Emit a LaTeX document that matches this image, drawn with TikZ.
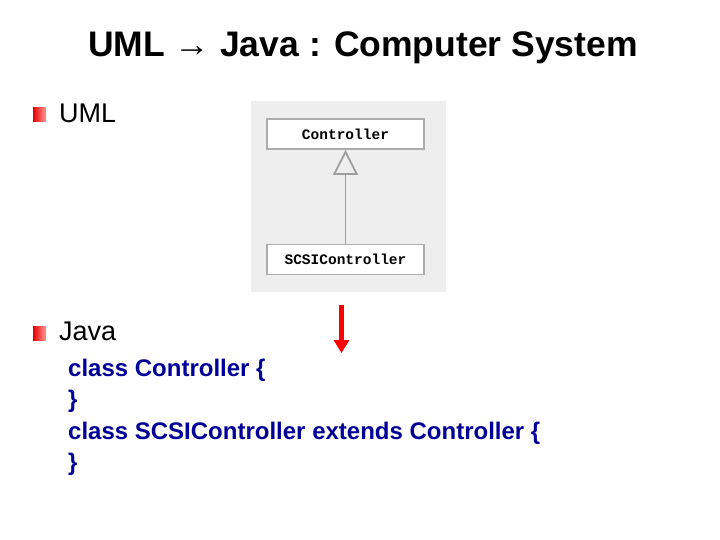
\documentclass[tikz,border=0pt]{standalone}
\usepackage{fontspec}
\setmainfont{Liberation Sans}
\newfontfamily\umlfont{Liberation Mono}
\usetikzlibrary{arrows.meta}
\begin{document}
\begin{tikzpicture}[
    x=1pt, y=-1pt,
    umlbox/.style={draw=gray!65, line width=1.8pt, fill=white, minimum width=157pt, minimum height=30pt, font=\umlfont\bfseries\fontsize{14.5}{16}\selectfont},
    bullet/.style={left color=red!90!black, right color=red!40, draw=none, minimum width=13pt, minimum height=14pt, inner sep=0pt},
    heading/.style={anchor=base west, inner sep=0pt, font=\fontsize{27}{31}\selectfont},
    code/.style={anchor=base west, inner sep=0pt, text=blue!60!black, font=\bfseries\fontsize{24}{28}\selectfont}
]
    \useasboundingbox (0,0) rectangle (720,540);

    % Titel
    \node[anchor=base, font=\bfseries\fontsize{35.5}{40}\selectfont] (title) at (363,57) {UML → Java : Computer System};

    % UML
    \node[bullet] (b1) at (39.5,114.5) {};
    \node[heading] (umllabel) at (59,123) {UML};
    \fill[gray!13] (251,101) rectangle (446,292);
    \node[umlbox] (ctrl) at (345.5,134) {Controller};
    \node[umlbox] (scsi) at (345.5,259.5) {SCSIController};
    \draw[gray!75, line width=1.8pt, -{Triangle[open, length=25pt, width=25pt]}] (scsi) -- (ctrl);

    % Pfeil
    \coordinate (arrtop) at (341.5,305);
    \coordinate (arrtip) at (341.5,353);
    \draw[red, line width=5pt, -{Triangle[length=13pt, width=15pt]}] (arrtop) -- (arrtip);

    % Java
    \node[bullet] (b2) at (39.5,333) {};
    \node[heading] (javalabel) at (59,340) {Java};
    \node[code] (c1) at (68,376) {class Controller \{};
    \node[code] (c2) at (68,407) {\}};
    \node[code] (c3) at (68,439) {class SCSIController extends Controller \{};
    \node[code] (c4) at (68,470) {\}};
\end{tikzpicture}
\end{document}
